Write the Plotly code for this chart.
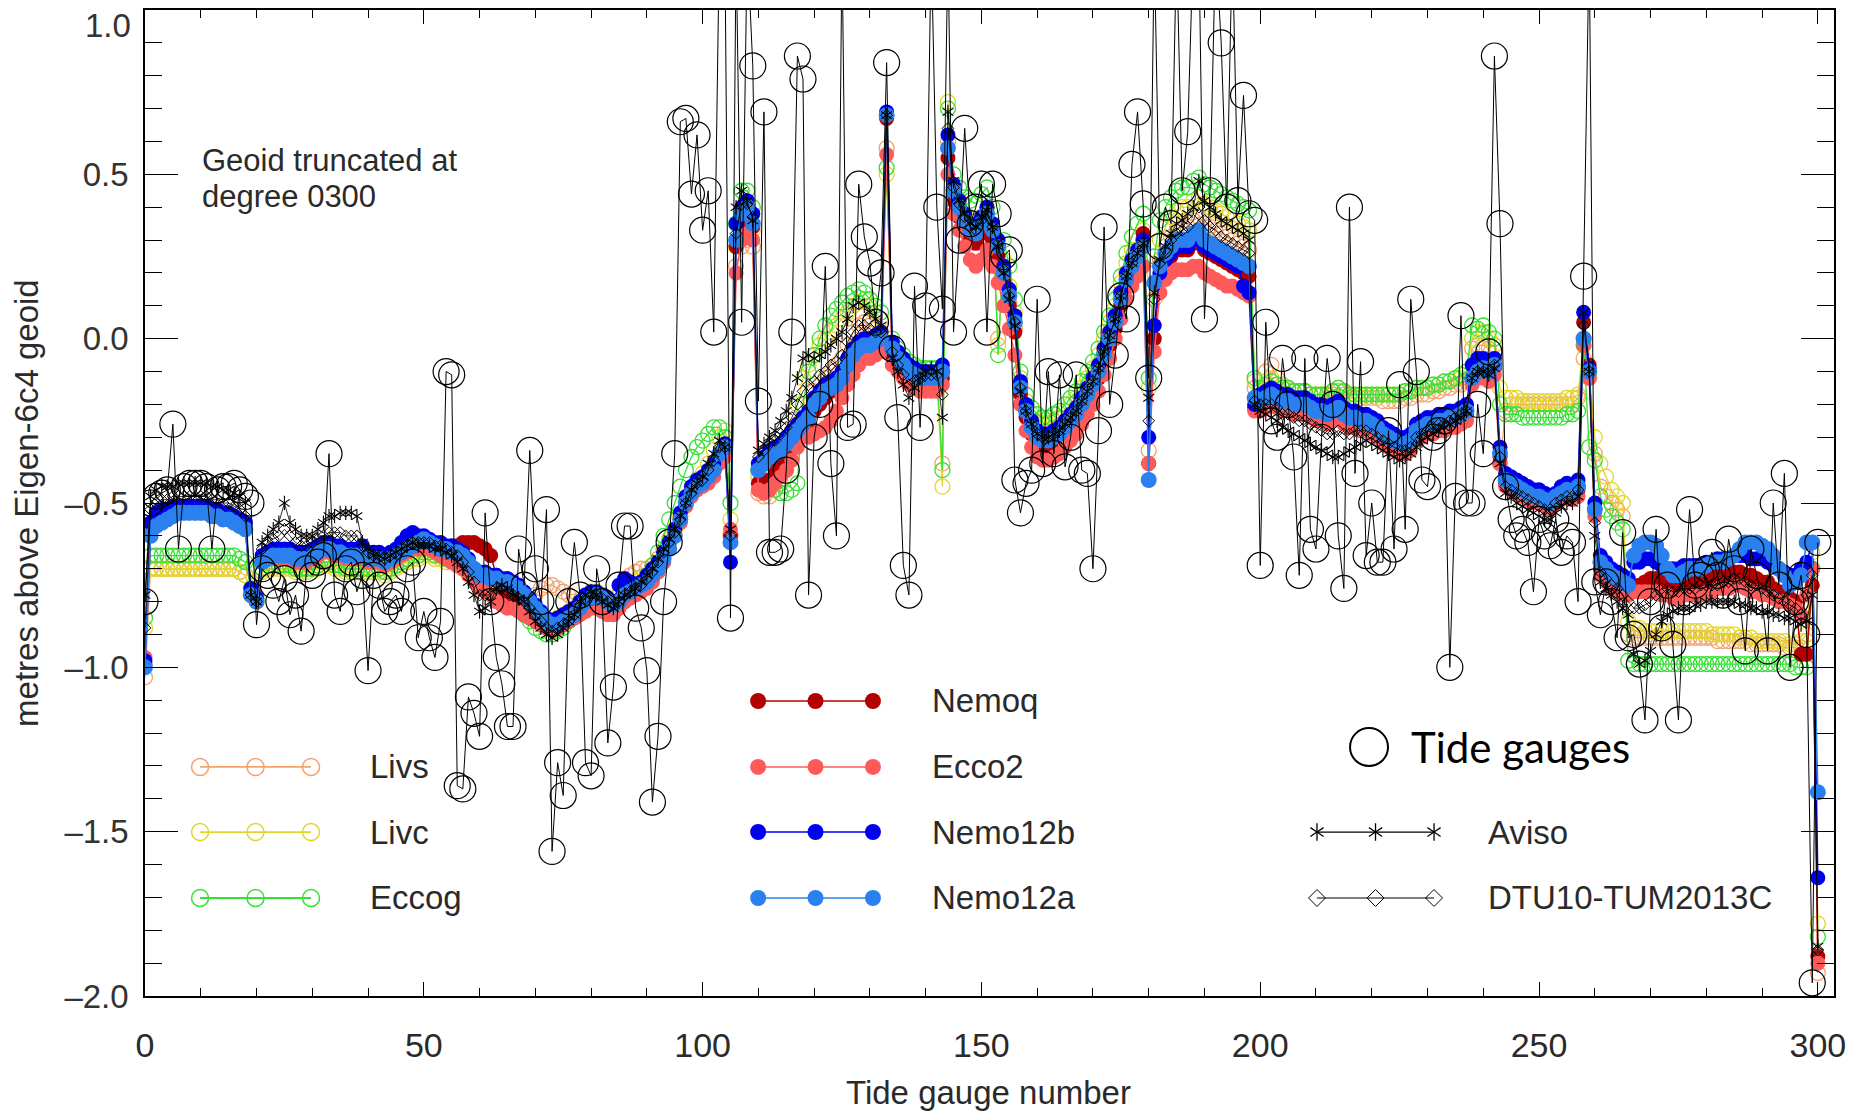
import plotly.graph_objects as go

gauge = list(range(301))

# values in cm above Eigen-6c4 geoid, gauge 0..300
nemo12a = [
-100,-60,-57,-56,-55,-54,-53,-53,-53,-53,
-53,-53,-54,-54,-55,-55,-56,-57,-58,-78,
-80,-68,-67,-66,-66,-66,-66,-67,-67,-67,
-66,-65,-64,-64,-65,-65,-66,-66,-66,-66,
-67,-67,-67,-68,-67,-66,-65,-64,-63,-62,
-61,-62,-63,-64,-64,-65,-65,-66,-68,-70,
-72,-72,-73,-73,-74,-74,-75,-76,-78,-80,
-82,-84,-86,-87,-87,-86,-85,-84,-82,-80,
-79,-78,-79,-80,-81,-80,-78,-77,-76,-75,
-74,-72,-70,-67,-64,-60,-55,-50,-47,-45,
-44,-42,-40,-35,-33,-62,30,38,40,35,
-40,-38,-36,-35,-34,-32,-30,-28,-26,-24,
-20,-18,-16,-15,-14,-12,-8,-5,-3,-2,
-2,-1,0,68,-3,-6,-8,-10,-11,-12,
-12,-12,-12,-10,58,45,40,36,33,32,
35,38,33,28,20,13,5,-15,-22,-27,
-30,-31,-31,-30,-29,-27,-25,-23,-20,-17,
-14,-10,-5,0,5,12,18,22,25,28,
-43,17,22,26,28,30,30,30,32,33,
30,29,28,27,26,25,24,23,22,-18,
-19,-18,-17,-18,-19,-19,-20,-20,-20,-21,
-22,-22,-23,-22,-21,-23,-24,-24,-25,-25,
-26,-27,-29,-30,-31,-32,-32,-31,-28,-27,
-26,-26,-25,-25,-24,-24,-23,-22,-12,-10,
-9,-10,-8,-35,-43,-44,-45,-46,-47,-48,
-48,-49,-50,-48,-47,-46,-47,-45,0,-10,
-52,-68,-70,-72,-73,-74,-75,-66,-63,-62,
-62,-63,-66,-70,-72,-72,-71,-70,-70,-70,
-69,-68,-68,-68,-67,-66,-64,-62,-62,-62,
-63,-64,-66,-70,-72,-75,-74,-72,-62,-62,
-138]

nemo12b = [
-98,-56,-53,-52,-52,-51,-51,-51,-51,-51,
-51,-51,-52,-52,-53,-53,-54,-55,-56,-76,
-79,-66,-65,-64,-64,-64,-64,-65,-65,-65,
-64,-63,-62,-62,-63,-63,-64,-64,-64,-63,
-65,-65,-65,-66,-65,-64,-62,-60,-59,-60,
-60,-61,-62,-62,-63,-63,-64,-65,-67,-70,
-71,-71,-72,-72,-73,-73,-74,-75,-77,-79,
-81,-83,-85,-86,-85,-84,-83,-82,-80,-78,
-77,-77,-78,-79,-80,-75,-73,-74,-75,-74,
-72,-70,-68,-65,-62,-58,-53,-48,-45,-43,
-42,-40,-38,-35,-32,-68,35,40,42,38,
-38,-36,-34,-33,-32,-30,-28,-26,-24,-22,
-18,-16,-14,-13,-12,-10,-6,-3,-1,0,
0,1,2,69,-1,-4,-6,-8,-9,-10,
-10,-10,-10,-8,62,47,42,38,35,34,
37,40,35,30,22,15,7,-13,-20,-25,
-28,-29,-29,-28,-27,-25,-23,-21,-18,-15,
-12,-8,-3,2,7,14,20,24,27,30,
-30,4,20,24,26,28,28,28,30,31,
28,27,26,25,24,23,22,16,14,-20,
-17,-16,-15,-16,-17,-17,-18,-18,-18,-19,
-20,-20,-21,-20,-19,-21,-22,-22,-23,-23,
-24,-25,-27,-28,-29,-30,-30,-29,-26,-25,
-24,-24,-23,-23,-22,-22,-21,-20,-8,-6,
-6,-8,-6,-33,-41,-42,-43,-44,-45,-46,
-46,-47,-48,-47,-45,-44,-45,-43,8,-9,
-50,-66,-68,-70,-71,-72,-73,-68,-68,-67,
-67,-68,-69,-70,-70,-70,-69,-69,-69,-69,
-68,-68,-67,-67,-67,-66,-66,-66,-67,-67,
-67,-68,-69,-70,-71,-72,-72,-70,-68,-62,
-164]

nemoq = [
-99,-60,-56,-55,-55,-54,-53,-53,-53,-53,
-53,-53,-54,-54,-55,-55,-56,-57,-58,-78,
-79,-68,-67,-66,-66,-66,-66,-67,-67,-67,
-66,-65,-64,-64,-65,-65,-66,-66,-66,-66,
-67,-67,-67,-68,-67,-66,-65,-64,-63,-63,
-63,-63,-64,-64,-65,-65,-63,-62,-62,-62,
-63,-64,-66,-72,-76,-78,-80,-82,-84,-85,
-86,-87,-88,-88,-88,-87,-86,-85,-83,-81,
-80,-80,-81,-82,-83,-82,-80,-78,-77,-76,
-75,-73,-71,-68,-64,-60,-55,-50,-47,-45,
-44,-42,-40,-36,-34,-60,28,36,38,34,
-44,-44,-43,-40,-38,-36,-33,-30,-28,-26,
-22,-20,-18,-16,-15,-13,-10,-7,-5,-4,
-4,-3,-2,67,-5,-8,-10,-12,-13,-14,
-14,-14,-14,-12,55,42,37,33,30,29,
32,34,30,25,17,10,2,-17,-24,-29,
-32,-33,-33,-32,-31,-29,-27,-25,-22,-19,
-16,-12,-7,-2,3,10,16,20,23,32,
-38,0,18,22,25,27,27,27,29,30,
27,26,25,24,23,22,21,20,19,-21,
-20,-19,-18,-19,-20,-20,-21,-21,-21,-22,
-23,-23,-24,-23,-22,-24,-25,-25,-26,-26,
-27,-28,-30,-31,-32,-33,-33,-32,-29,-28,
-27,-27,-26,-26,-25,-25,-24,-23,-12,-10,
-10,-11,-9,-36,-44,-45,-46,-47,-48,-49,
-49,-50,-51,-49,-48,-47,-48,-46,5,-8,
-52,-70,-72,-74,-75,-76,-77,-76,-75,-74,
-73,-73,-74,-75,-76,-76,-75,-74,-74,-74,
-73,-73,-72,-72,-72,-71,-71,-72,-72,-73,
-74,-74,-76,-77,-78,-79,-80,-96,-96,-75,
-188]

ecco2 = [
-97,-58,-55,-54,-54,-53,-53,-53,-53,-53,
-53,-53,-54,-54,-55,-55,-56,-57,-58,-76,
-78,-68,-67,-67,-67,-67,-67,-68,-68,-68,
-67,-66,-65,-65,-66,-66,-67,-67,-67,-67,
-68,-68,-68,-69,-68,-67,-66,-65,-64,-64,
-64,-64,-65,-66,-67,-68,-69,-70,-72,-74,
-76,-77,-78,-80,-81,-82,-82,-83,-84,-85,
-86,-87,-88,-89,-88,-87,-86,-85,-84,-83,
-82,-82,-83,-84,-84,-82,-80,-79,-78,-77,
-76,-74,-71,-68,-64,-60,-56,-51,-48,-46,
-45,-44,-42,-38,-36,-58,20,30,32,30,
-46,-47,-46,-44,-42,-40,-37,-33,-30,-30,
-29,-28,-27,-25,-22,-18,-14,-11,-8,-6,
-6,-5,-4,56,-8,-10,-12,-14,-15,-16,
-16,-16,-16,-14,50,38,33,28,24,22,
24,27,22,17,10,3,-5,-20,-28,-33,
-36,-37,-37,-36,-35,-33,-31,-29,-26,-23,
-20,-16,-11,-6,0,6,12,16,19,22,
-38,-4,14,18,20,21,21,21,22,22,
20,19,18,17,16,16,15,14,13,-22,
-22,-21,-20,-21,-22,-22,-23,-23,-23,-24,
-25,-25,-26,-25,-24,-26,-27,-27,-28,-28,
-29,-30,-32,-33,-34,-35,-35,-34,-31,-30,
-29,-29,-28,-28,-27,-27,-26,-25,-14,-12,
-12,-13,-11,-38,-45,-46,-47,-48,-49,-50,
-50,-51,-52,-50,-49,-48,-49,-48,-2,-12,
-54,-72,-74,-76,-77,-78,-78,-77,-77,-77,
-77,-77,-78,-78,-79,-79,-78,-78,-78,-78,
-77,-77,-76,-76,-76,-75,-75,-76,-77,-77,
-78,-78,-79,-80,-80,-81,-82,-84,-78,-70,
-190]

livs = [
-103,-70,-70,-70,-70,-70,-70,-70,-70,-70,
-70,-70,-70,-70,-70,-70,-70,-71,-72,-78,
-80,-70,-69,-69,-69,-69,-69,-70,-70,-70,
-70,-69,-68,-68,-69,-69,-70,-70,-70,-70,
-70,-70,-70,-71,-70,-69,-68,-67,-66,-66,
-65,-65,-66,-66,-67,-67,-68,-69,-70,-72,
-73,-74,-75,-76,-77,-78,-79,-80,-81,-82,
-78,-76,-75,-75,-76,-77,-78,-80,-80,-79,
-78,-78,-79,-79,-80,-78,-74,-72,-71,-70,
-70,-69,-67,-64,-61,-58,-54,-50,-47,-45,
-44,-42,-40,-36,-34,-60,22,28,30,28,
-47,-48,-48,-46,-44,-40,-36,-30,-24,-20,
-16,-14,-12,-10,-8,-6,-2,2,4,5,
4,3,2,58,-4,-7,-9,-11,-12,-13,
-13,-13,-13,-38,60,43,38,34,31,30,
33,36,30,0,18,11,3,-14,-21,-25,
-28,-29,-29,-28,-27,-25,-23,-21,-18,-15,
-12,-8,-3,2,7,14,20,24,27,30,
-34,12,24,28,31,33,34,34,36,37,
35,34,33,32,31,30,29,28,27,-15,
-16,-10,-8,-12,-14,-15,-16,-16,-16,-17,
-17,-17,-18,-17,-16,-17,-18,-18,-18,-18,
-18,-18,-19,-19,-19,-19,-18,-18,-17,-17,
-17,-16,-16,-15,-15,-14,-14,-13,-3,-2,
-2,-3,-2,-38,-22,-20,-20,-20,-20,-20,
-20,-20,-20,-20,-20,-20,-20,-18,-6,-12,
-35,-45,-48,-50,-52,-54,-90,-91,-91,-91,
-91,-91,-91,-91,-91,-91,-91,-91,-91,-91,
-91,-91,-92,-92,-92,-92,-92,-92,-93,-93,
-93,-93,-93,-93,-94,-94,-94,-94,-92,-70,
-193]

livc = [
-88,-70,-70,-70,-70,-70,-70,-70,-70,-70,
-70,-70,-70,-70,-70,-70,-70,-71,-72,-78,
-80,-71,-70,-70,-70,-70,-70,-71,-71,-71,
-70,-70,-69,-69,-70,-70,-71,-71,-71,-71,
-71,-71,-71,-72,-71,-70,-69,-68,-67,-67,
-66,-66,-67,-67,-68,-68,-69,-70,-71,-73,
-74,-75,-76,-77,-78,-79,-80,-81,-82,-83,
-84,-85,-86,-86,-85,-84,-83,-82,-80,-78,
-77,-77,-78,-79,-80,-78,-76,-75,-74,-73,
-72,-70,-68,-65,-62,-58,-54,-50,-46,-43,
-41,-38,-34,-30,-28,-55,28,35,36,33,
-42,-42,-40,-38,-36,-33,-28,-20,-12,-8,
-5,-2,0,2,4,6,8,10,11,12,
10,8,6,50,-2,-5,-7,-9,-10,-11,
-11,-11,-11,-45,72,46,42,38,35,34,
37,40,34,-2,24,16,8,-12,-19,-23,
-25,-26,-26,-25,-24,-22,-20,-18,-15,-12,
-9,-5,0,5,10,17,23,27,30,33,
-15,20,30,34,37,39,40,40,42,43,
41,40,39,38,37,36,35,34,33,-13,
-15,-13,-12,-14,-15,-15,-16,-16,-16,-17,
-17,-17,-17,-16,-15,-16,-17,-17,-17,-17,
-17,-17,-17,-17,-17,-17,-16,-16,-15,-15,
-15,-14,-14,-13,-13,-12,-12,-10,0,2,
2,0,-2,-15,-18,-18,-18,-19,-19,-19,
-19,-19,-19,-19,-19,-18,-18,-17,0,-10,
-30,-38,-42,-46,-48,-50,-86,-88,-88,-89,
-89,-89,-89,-89,-89,-89,-89,-89,-89,-89,
-89,-90,-90,-90,-90,-90,-91,-91,-91,-92,
-92,-92,-92,-92,-92,-93,-93,-92,-90,-65,
-178]

eccog = [
-85,-66,-66,-66,-66,-66,-66,-66,-66,-66,
-66,-66,-66,-66,-66,-66,-66,-67,-68,-76,
-79,-70,-69,-69,-69,-69,-69,-70,-70,-70,
-70,-69,-68,-68,-69,-69,-70,-70,-70,-70,
-70,-70,-70,-71,-70,-69,-68,-67,-66,-66,
-65,-65,-66,-66,-67,-67,-68,-69,-70,-72,
-73,-74,-75,-76,-77,-78,-80,-82,-84,-86,
-88,-89,-90,-90,-89,-88,-86,-84,-82,-80,
-79,-79,-80,-81,-82,-80,-78,-77,-76,-75,
-72,-69,-65,-60,-55,-50,-45,-40,-36,-33,
-31,-29,-27,-27,-30,-50,35,45,45,40,
-40,-42,-44,-46,-47,-47,-46,-44,-20,-10,
-5,0,4,7,9,11,13,14,15,14,
12,10,8,52,0,-3,-5,-7,-8,-9,
-9,-9,-9,-40,70,50,46,43,42,41,
44,46,40,-5,30,22,12,-10,-17,-21,
-23,-24,-24,-23,-22,-20,-18,-16,-13,-10,
-7,-3,2,7,12,19,26,31,35,38,
-12,25,36,40,43,45,46,46,48,49,
47,46,45,44,43,42,41,40,39,-12,
-15,-14,-13,-14,-15,-15,-16,-16,-16,-17,
-17,-17,-17,-16,-15,-16,-17,-17,-17,-17,
-17,-17,-17,-17,-17,-17,-16,-16,-15,-15,
-15,-14,-14,-13,-13,-12,-11,-10,4,3,
4,2,0,-20,-23,-23,-23,-24,-24,-24,
-24,-24,-24,-24,-24,-23,-23,-22,-2,-33,
-37,-48,-52,-54,-56,-58,-98,-99,-99,-99,
-99,-99,-99,-99,-99,-99,-99,-99,-99,-99,
-99,-99,-99,-99,-99,-99,-99,-99,-99,-99,
-99,-99,-99,-99,-99,-99,-100,-100,-100,-70,
-182]

aviso = [
-78,-48,-46,-45,-45,-45,-44,-44,-44,-44,
-44,-44,-45,-45,-46,-46,-47,-48,-50,-78,
-80,-62,-60,-58,-56,-50,-56,-58,-60,-60,
-60,-58,-56,-54,-54,-53,-53,-53,-54,-62,
-64,-66,-66,-67,-66,-65,-64,-63,-62,-63,
-63,-63,-64,-64,-65,-66,-68,-70,-74,-78,
-83,-82,-80,-76,-75,-76,-78,-79,-80,-83,
-86,-88,-90,-91,-90,-88,-86,-84,-80,-78,
-77,-78,-80,-81,-82,-80,-78,-77,-76,-74,
-72,-70,-67,-64,-61,-58,-54,-50,-46,-44,
-42,-38,-35,-31,-33,-58,40,45,42,36,
-34,-32,-30,-28,-25,-22,-18,-12,-6,-5,
-6,-5,-4,-2,0,2,6,10,11,10,
8,6,4,68,-6,-10,-14,-18,-15,-12,
-10,-9,-10,-24,69,48,42,38,35,34,
37,39,34,28,20,12,4,-16,-22,-26,
-29,-30,-30,-29,-28,-26,-24,-22,-19,-16,
-13,-9,-4,1,6,13,19,23,26,29,
-18,14,24,28,32,35,36,38,40,48,
42,40,38,36,35,34,33,32,30,-20,
-22,-23,-24,-25,-27,-28,-29,-30,-31,-32,
-33,-34,-35,-36,-36,-35,-34,-33,-32,-31,
-32,-33,-34,-35,-36,-37,-36,-35,-33,-31,
-30,-29,-28,-27,-26,-25,-24,-22,-12,-10,
-10,-11,-9,-38,-47,-48,-50,-51,-52,-53,
-54,-55,-55,-53,-51,-50,-50,-48,8,-10,
-60,-74,-76,-78,-80,-82,-84,-96,-99,-98,
-95,-90,-86,-84,-83,-82,-82,-82,-81,-81,
-80,-80,-80,-80,-80,-80,-81,-81,-82,-82,
-83,-83,-84,-84,-85,-85,-86,-87,-86,-78,
-185]

dtu = [
-88,-52,-50,-49,-49,-48,-48,-48,-48,-48,
-48,-48,-49,-49,-50,-50,-51,-52,-54,-78,
-80,-64,-62,-61,-60,-58,-60,-62,-63,-63,
-62,-61,-60,-59,-59,-59,-60,-60,-60,-63,
-65,-66,-66,-67,-66,-65,-64,-63,-62,-62,
-62,-62,-63,-63,-64,-65,-66,-68,-71,-74,
-78,-78,-78,-76,-76,-77,-78,-79,-80,-82,
-84,-86,-88,-89,-88,-87,-86,-84,-81,-79,
-78,-78,-79,-80,-81,-80,-78,-77,-76,-75,
-73,-71,-68,-65,-62,-59,-55,-50,-47,-44,
-43,-40,-37,-33,-33,-60,32,41,41,37,
-36,-34,-32,-31,-29,-27,-24,-20,-16,-14,
-13,-11,-10,-8,-7,-5,-1,2,4,4,
3,2,2,68,-4,-8,-11,-14,-13,-12,
-11,-11,-11,-17,64,46,41,37,34,33,
36,38,34,29,21,13,5,-15,-22,-26,
-29,-30,-30,-29,-28,-26,-24,-22,-19,-16,
-13,-9,-4,1,6,13,19,23,26,29,
-25,12,23,27,30,32,33,34,36,40,
36,34,33,31,30,29,28,27,26,-19,
-20,-20,-20,-21,-23,-23,-24,-25,-25,-26,
-27,-28,-29,-29,-28,-29,-29,-28,-28,-28,
-29,-30,-31,-32,-33,-34,-34,-33,-30,-29,
-28,-27,-26,-26,-25,-24,-23,-22,-12,-10,
-10,-10,-8,-36,-45,-46,-47,-48,-49,-50,
-51,-52,-52,-50,-49,-48,-48,-46,4,-10,
-56,-71,-73,-75,-76,-78,-80,-82,-82,-81,
-80,-78,-76,-76,-77,-77,-76,-76,-76,-75,
-75,-75,-75,-74,-74,-73,-73,-74,-75,-75,
-76,-77,-78,-79,-80,-81,-82,-84,-78,-72,
-186]

tide_gauges = [
-80,-50,-48,-47,-46,-26,-64,-45,-44,-44,
-44,-45,-64,-46,-45,-45,-44,-46,-48,-50,
-87,-70,-72,-75,-80,-73,-84,-78,-89,-70,
-72,-68,-66,-35,-78,-83,-70,-68,-77,-72,
-101,-72,-75,-83,-80,-78,-83,-70,-68,-91,
-83,-91,-97,-86,-10,-11,-136,-137,-109,-114,
-121,-53,-80,-97,-105,-118,-118,-64,-75,-34,
-70,-80,-52,-156,-129,-139,-80,-62,-78,-129,
-133,-70,-80,-123,-106,-75,-57,-57,-82,-88,
-101,-141,-121,-80,-62,-35,66,67,44,62,
33,45,2,120,120,-85,120,5,120,83,
-19,69,-65,-65,-64,-40,2,86,79,-78,
-30,-20,22,-38,-60,120,-27,-26,47,31,
23,5,20,84,-3,-24,-69,-78,16,-27,
10,120,40,9,120,2,30,64,35,40,
47,2,47,38,25,27,-43,-53,-44,-40,
12,-38,-10,-35,-11,-39,-30,-11,-40,-41,
-70,-28,34,-20,-5,13,6,53,69,41,
-12,120,28,40,35,120,45,63,120,120,
6,45,120,90,40,120,42,74,38,36,
-69,5,-25,-30,-6,-20,-36,-72,-6,-58,
-64,-30,-6,-20,-60,-76,40,-41,-7,-66,
-50,-68,-68,-28,-64,-14,-58,12,-10,-43,
-45,-30,-28,-25,-100,-48,7,-50,-50,-20,
-35,-4,86,35,-45,-55,-60,-58,-62,-77,
-55,-60,-63,-55,-65,-60,-62,-80,19,120,
-74,-84,-74,-80,-91,-59,-91,-90,-99,-116,
-80,-58,-88,-75,-93,-116,-80,-52,-75,-72,
-70,-65,-72,-78,-61,-70,-80,-95,-64,-72,
-80,-95,-50,-75,-41,-100,-80,-72,-90,-196,
-62]

series_names = ["Livs", "Livc", "Eccog", "Nemoq", "Ecco2", "Nemo12b", "Nemo12a"]
x_ticks = [0, 50, 100, 150, 200, 250, 300]
y_ticks = [-2.0, -1.5, -1.0, -0.5, 0.0, 0.5, 1.0]
y_ticktext = ["\u20132.0", "\u20131.5", "\u20131.0", "\u20130.5", "0.0", "0.5", ""]

for arr in (nemo12a, nemo12b, nemoq, ecco2, livs, livc, eccog, aviso, dtu, tide_gauges):
    assert len(arr) == 301, len(arr)

def m(v):
    return [a / 100.0 for a in v]

C_LIVS = "#F4A26C"
C_LIVC = "#E2D62A"
C_ECCOG = "#36E036"
C_NEMOQ = "#B30000"
C_ECCO2 = "#FF5A5A"
C_NEMO12B = "#0000EE"
C_NEMO12A = "#2A80EE"
FONT = "Liberation Sans, Arial, sans-serif"
TXT = "#2a2a2a"

fig = go.Figure()

def open_series(y, color):
    return go.Scatter(x=gauge, y=m(y), mode="lines+markers",
                      line=dict(color=color, width=1.3),
                      marker=dict(symbol="circle-open", size=15, color=color, line=dict(width=1.3)),
                      showlegend=False)

def filled_series(y, color, size=15):
    return go.Scatter(x=gauge, y=m(y), mode="lines+markers",
                      line=dict(color=color, width=1.5),
                      marker=dict(symbol="circle", size=size, color=color, line=dict(width=0)),
                      showlegend=False)

fig.add_trace(open_series(livs, C_LIVS))
fig.add_trace(open_series(livc, C_LIVC))
fig.add_trace(open_series(eccog, C_ECCOG))
fig.add_trace(filled_series(nemoq, C_NEMOQ))
fig.add_trace(filled_series(ecco2, C_ECCO2))
fig.add_trace(filled_series(nemo12b, C_NEMO12B))
fig.add_trace(filled_series(nemo12a, C_NEMO12A, 16))
fig.add_trace(go.Scatter(x=gauge, y=m(dtu), mode="lines+markers",
                         line=dict(color="black", width=0.8),
                         marker=dict(symbol="diamond-open", size=9, color="black", line=dict(width=1)),
                         showlegend=False))
# Aviso: six-armed asterisk built from two Y symbols
fig.add_trace(go.Scatter(x=gauge, y=m(aviso), mode="lines+markers",
                         line=dict(color="black", width=0.8),
                         marker=dict(symbol="y-up-open", size=9, color="black", line=dict(width=1.1, color="black")),
                         showlegend=False))
fig.add_trace(go.Scatter(x=gauge, y=m(aviso), mode="markers",
                         marker=dict(symbol="y-down-open", size=9, color="black", line=dict(width=1.1, color="black")),
                         showlegend=False))
fig.add_trace(go.Scatter(x=gauge, y=m(tide_gauges), mode="lines+markers",
                         line=dict(color="black", width=1),
                         marker=dict(symbol="circle-open", size=26, color="black", line=dict(width=1.2)),
                         showlegend=False))

# ---- legend (drawn on an overlay axis in plot-area fractions) ----
leg_items = [
    ("Livs", 0.0326, 0.0983, 0.2323, "open", C_LIVS, 0.132),
    ("Livc", 0.0326, 0.0983, 0.1663, "open", C_LIVC, 0.132),
    ("Eccog", 0.0326, 0.0983, 0.0994, "open", C_ECCOG, 0.132),
    ("Nemoq", 0.363, 0.431, 0.2992, "filled", C_NEMOQ, 0.4648),
    ("Ecco2", 0.363, 0.431, 0.2323, "filled", C_ECCO2, 0.4648),
    ("Nemo12b", 0.363, 0.431, 0.1663, "filled", C_NEMO12B, 0.4648),
    ("Nemo12a", 0.363, 0.431, 0.0994, "filled", C_NEMO12A, 0.4648),
    ("Aviso", 0.6939, 0.7632, 0.1663, "aviso", "black", 0.794),
    ("DTU10-TUM2013C", 0.6939, 0.7632, 0.0994, "dtu", "black", 0.794),
]
for name, x0, x1, yy, style, col, tx in leg_items:
    xs = [x0, (x0 + x1) / 2, x1]
    ys = [yy] * 3
    if style == "open":
        mk = dict(symbol="circle-open", size=17, color=col, line=dict(width=1.5))
        lw = 1.8
    elif style == "filled":
        mk = dict(symbol="circle", size=16, color=col)
        lw = 1.6
    elif style == "aviso":
        mk = dict(symbol="y-up-open", size=11, color="black", line=dict(width=1.3, color="black"))
        lw = 1.2
    else:
        mk = dict(symbol="diamond-open", size=13, color="black", line=dict(width=1))
        lw = 1.2
    fig.add_trace(go.Scatter(x=xs, y=ys, xaxis="x2", yaxis="y2", mode="lines+markers",
                             line=dict(color=col, width=lw), marker=mk,
                             showlegend=False, cliponaxis=False, hoverinfo="skip"))
    if style == "aviso":
        fig.add_trace(go.Scatter(x=xs, y=ys, xaxis="x2", yaxis="y2", mode="markers",
                                 marker=dict(symbol="y-down-open", size=11, color="black",
                                             line=dict(width=1.3, color="black")),
                                 showlegend=False, cliponaxis=False, hoverinfo="skip"))
    fig.add_annotation(x=tx, y=yy, xref="x2", yref="y2", text=name, showarrow=False,
                       xanchor="left", yanchor="middle",
                       font=dict(family=FONT, size=33, color=TXT))

fig.add_trace(go.Scatter(x=[0.7247], y=[0.2525], xaxis="x2", yaxis="y2", mode="markers",
                         marker=dict(symbol="circle-open", size=38, color="black", line=dict(width=2)),
                         showlegend=False, cliponaxis=False, hoverinfo="skip"))
fig.add_annotation(x=0.7484, y=0.2525, xref="x2", yref="y2", text="Tide gauges", showarrow=False,
                   xanchor="left", yanchor="middle",
                   font=dict(family="Lato, Open Sans, sans-serif", size=42, color="black"))

fig.add_annotation(x=0.0326, y=0.8479, xref="paper", yref="paper", text="Geoid truncated at",
                   showarrow=False, xanchor="left", yanchor="middle", height=36, valign="middle",
                   font=dict(family=FONT, size=31, color=TXT))
fig.add_annotation(x=0.0326, y=0.8114, xref="paper", yref="paper", text="degree 0300",
                   showarrow=False, xanchor="left", yanchor="middle", height=36, valign="middle",
                   font=dict(family=FONT, size=31, color=TXT))

# axis titles & top y label
fig.add_annotation(x=-0.0705, y=0.5, xref="paper", yref="paper", text="metres above Eigen-6c4 geoid",
                   textangle=-90, showarrow=False, xanchor="center", yanchor="middle",
                   font=dict(family=FONT, size=33, color=TXT))
fig.add_annotation(x=0.4997, y=-0.098, xref="paper", yref="paper", text="Tide gauge number",
                   showarrow=False, xanchor="center", yanchor="middle",
                   font=dict(family=FONT, size=33, color=TXT))
fig.add_annotation(x=-0.0071, y=0.9838, xref="paper", yref="paper", text="1.0",
                   showarrow=False, xanchor="right", yanchor="middle",
                   font=dict(family=FONT, size=33, color="#333333"))

# page body has an 8px margin: shrink the figure and margins so the plot frame lands where it should
fig.update_layout(
    width=1856, height=1107,
    margin=dict(l=137, r=30, t=2, b=119, autoexpand=False),
    paper_bgcolor="white", plot_bgcolor="white",
    showlegend=False,
    xaxis=dict(range=[0, 302.9], tickvals=x_ticks, ticktext=[str(v) for v in x_ticks],
               ticks="inside", ticklen=14, tickwidth=1, tickcolor="black",
               showline=True, linecolor="black", linewidth=1.5, mirror="ticks",
               showgrid=False, zeroline=False, automargin=False,
               minor=dict(dtick=10, tick0=0, ticks="inside", ticklen=8, tickcolor="black", showgrid=False),
               tickfont=dict(family=FONT, size=34, color=TXT),
               ticklabelstandoff=18),
    yaxis=dict(range=[-2.0, 1.0], tickvals=y_ticks, ticktext=y_ticktext,
               ticks="inside", ticklen=33, tickwidth=1, tickcolor="black",
               showline=True, linecolor="black", linewidth=1.5, mirror="ticks",
               showgrid=False, zeroline=False, automargin=False,
               minor=dict(dtick=0.1, tick0=0, ticks="inside", ticklen=17, tickcolor="black", showgrid=False),
               tickfont=dict(family=FONT, size=33, color="#333333"),
               ticklabelstandoff=8),
    xaxis2=dict(domain=[0, 1], range=[0, 1], overlaying="x", visible=False, anchor="y2"),
    yaxis2=dict(domain=[0, 1], range=[0, 1], overlaying="y", visible=False, anchor="x2"),
)

fig.write_html("out.html")
